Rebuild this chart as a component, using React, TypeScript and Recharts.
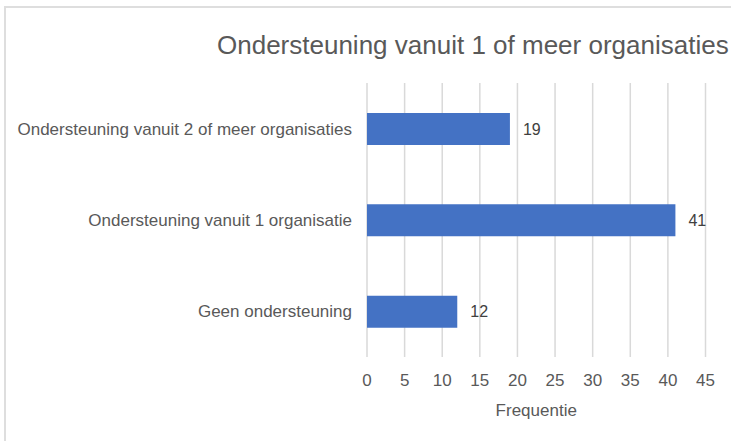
import { Bar, BarChart, CartesianGrid, LabelList, XAxis, YAxis } from "recharts";

const categories = [
  "Ondersteuning vanuit 2 of meer organisaties",
  "Ondersteuning vanuit 1 organisatie",
  "Geen ondersteuning",
];
const frequencies = [19, 41, 12];
const xTicks = [0, 5, 10, 15, 20, 25, 30, 35, 40, 45];

const title = "Ondersteuning vanuit 1 of meer organisaties";
const xLabel = "Frequentie";

const FONT = "'Liberation Sans', Arial, sans-serif";
const TEXT = "#595959";

export default function App() {
  const data = categories.map((name, i) => ({ name, value: frequencies[i] }));

  return (
    <div
      style={{
        position: "absolute",
        left: 0,
        top: 0,
        width: 731,
        height: 441,
        overflow: "hidden",
        background: "#fff",
        fontFamily: FONT,
      }}
    >
      {/* chart area frame, cut off on the right and bottom like the screenshot */}
      <div
        style={{
          position: "absolute",
          left: 4,
          top: 6,
          width: 800,
          height: 500,
          border: "2px solid #dedede",
        }}
      />
      <div
        style={{
          position: "absolute",
          left: 217,
          top: 32,
          fontSize: 26,
          lineHeight: "26px",
          color: TEXT,
          whiteSpace: "nowrap",
        }}
      >
        {title}
      </div>
      <div style={{ position: "absolute", left: 0, top: 0 }}>
        <BarChart
          width={731}
          height={441}
          data={data}
          layout="vertical"
          margin={{ top: 83, right: 25.5, left: 0, bottom: 0 }}
        >
          <CartesianGrid horizontal={false} stroke="#d9d9d9" strokeWidth={1.5} />
          <XAxis
            type="number"
            domain={[0, 45]}
            ticks={xTicks}
            interval={0}
            height={84}
            axisLine={false}
            tickLine={false}
            tickSize={0}
            tickMargin={17}
            tick={{ fill: TEXT, fontSize: 17, fontFamily: FONT }}
            label={{
              value: xLabel,
              position: "insideBottom",
              offset: 25,
              fill: TEXT,
              fontSize: 17,
              fontFamily: FONT,
            }}
          />
          <YAxis
            type="category"
            dataKey="name"
            width={367}
            axisLine={false}
            tickLine={false}
            tickSize={0}
            tickMargin={15}
            interval={0}
            tick={{ fill: TEXT, fontSize: 17, fontFamily: FONT }}
          />
          <Bar dataKey="value" fill="#4472C4" barSize={32} isAnimationActive={false}>
            <LabelList
              dataKey="value"
              position="right"
              offset={13}
              fill="#404040"
              fontSize={16}
              fontFamily={FONT}
            />
          </Bar>
        </BarChart>
      </div>
    </div>
  );
}
